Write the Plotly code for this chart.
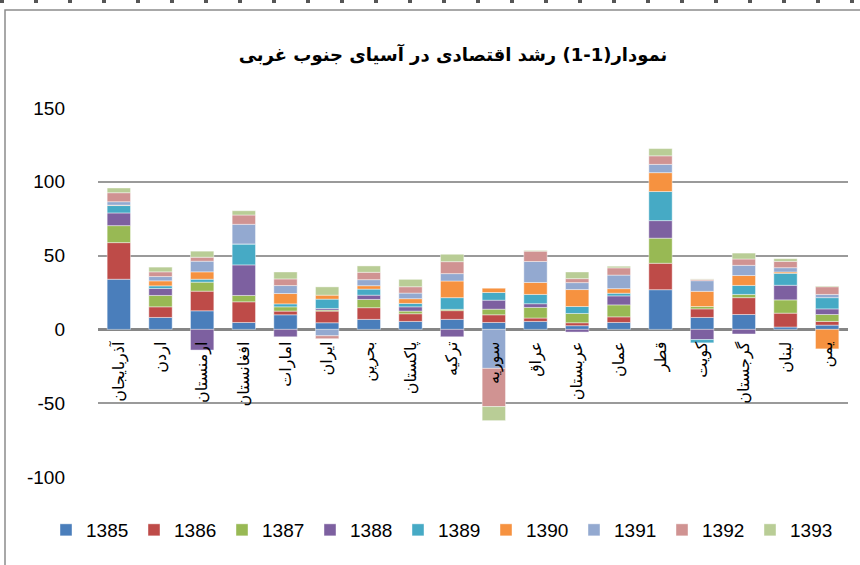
import plotly.graph_objects as go

countries = ["آذربایجان", "اردن", "ارمنستان", "افغانستان", "امارات", "ایران", "بحرین",
             "پاکستان", "ترکیه", "سوریه", "عراق", "عربستان", "عمان", "قطر", "کویت",
             "گرجستان", "لبنان", "یمن"]

years = ["1385", "1386", "1387", "1388", "1389", "1390", "1391", "1392", "1393"]

v1385 = [34, 8.1, 12.6, 4.7, 9.9, 4.5, 6.8, 5.4, 6.8, 4.7, 5.4, 2.5, 4.7, 26.9, 8.1, 10.1, 1.6, 2.9]
v1386 = [24.8, 7.2, 13.3, 14, 2.5, 7.9, 7.9, 5.2, 5.9, 5.2, 2.3, 2, 3.8, 17.9, 5.8, 11.4, 9.4, 2.5]
v1387 = [11.5, 7.7, 6.1, 4.3, 2.9, 0.7, 5.6, 1.8, 0.9, 3.8, 7.2, 6.3, 8.1, 17, 1.6, 2.2, 9, 4.7]
v1388 = [8.6, 4.7, -14, 20.7, -5, 1.1, 2.9, 2.9, -5, 6.1, 2.5, -1.8, 6.1, 11.9, -6.9, -3.1, 9.9, 3.8]
v1389 = [5, 1.8, 2, 14.2, 2, 6.3, 4.1, 2.3, 7.9, 5.2, 6.3, 4.7, 1.8, 19.7, -2.2, 6.1, 8.1, 7.6]
v1390 = [0.3, 3.4, 5, 0, 7, 2.7, 2.3, 3.2, 11.3, 2.9, 8.1, 11.5, 3.1, 12.8, 10.3, 6.7, 0.9, -13.2]
v1391 = [2.3, 2.9, 7.2, 13.3, 5.4, -4.3, 4.1, 3.8, 5, -26.4, 14.2, 4.7, 9.2, 5.6, 7.2, 6.9, 2.9, 2.2]
v1392 = [6.1, 3.2, 2.7, 6.3, 4.5, -2, 5, 4.3, 8.1, -25.9, 7, 2.7, 4.9, 5.8, 0.9, 4.3, 4.3, 5.2]
v1393 = [3.2, 3.2, 4.1, 2.9, 4.7, 5.6, 4.3, 5, 5, -9.5, 0.5, 4.5, 1.1, 4.9, 0.3, 4, 1.8, 0.5]

series = [v1385, v1386, v1387, v1388, v1389, v1390, v1391, v1392, v1393]
colors = ["#4A7EBB", "#BE4B48", "#98B954", "#7D60A0", "#46AAC5",
          "#F69240", "#93A9D0", "#D09392", "#B9CD96"]

title_text = "نمودار(1-1) رشد اقتصادی در آسیای جنوب غربی"
y_ticks = [-100, -50, 0, 50, 100, 150]

fig = go.Figure()
for name, vals, col in zip(years, series, colors):
    fig.add_trace(go.Bar(
        x=countries, y=vals, name=name,
        marker=dict(color=col, line=dict(color="rgba(255,255,255,0.7)", width=0.6)),
    ))

# plot area in pixels: x 98..848, y 108..477
L, R, T, B = 98, 848, 108, 477
W, H = 860, 565


def px(x):
    return (x - L) / (R - L)


def py(y):
    return (B - y) / (B - T)


num_font = "Liberation Sans, Arial, sans-serif"

fig.update_layout(
    width=W, height=H,
    barmode="relative",
    bargap=0.44,
    plot_bgcolor="white",
    paper_bgcolor="white",
    margin=dict(l=L, r=W - R, t=T, b=H - B, autoexpand=False),
    title=dict(
        text="<b>" + title_text + "</b>",
        x=453 / W, xref="container", xanchor="center",
        y=1 - 55 / H, yref="container", yanchor="middle",
        font=dict(family="DejaVu Sans, sans-serif", size=18, color="black"),
    ),
    xaxis=dict(
        anchor="free", position=0.4,
        showline=False, showgrid=False, zeroline=False,
        tickangle=-90, ticks="", ticklabelstandoff=8,
        tickfont=dict(family="DejaVu Sans, sans-serif", size=16, color="black"),
    ),
    yaxis=dict(
        range=[-100, 150], tickvals=y_ticks, ticktext=[str(t) for t in y_ticks],
        showgrid=True, gridcolor="#9a9a9a", gridwidth=2,
        zeroline=True, zerolinecolor="#868686", zerolinewidth=3,
        showline=False, ticks="", ticklabelstandoff=32,
        tickfont=dict(family=num_font, size=19, color="black"),
    ),
    legend=dict(
        orientation="h",
        xref="paper", yref="paper",
        x=px(46), xanchor="left",
        y=py(530), yanchor="middle",
        font=dict(family=num_font, size=19, color="black"),
        itemwidth=30,
        entrywidth=43, entrywidthmode="pixels",
        traceorder="normal",
    ),
    shapes=[
        dict(type="rect", xref="paper", yref="paper",
             x0=px(5), x1=px(880), y0=py(10), y1=py(600),
             line=dict(color="#8c8c8c", width=1.5), fillcolor="rgba(0,0,0,0)", layer="below"),
        dict(type="line", xref="paper", yref="paper",
             x0=px(0), x1=px(860), y0=py(1.5), y1=py(1.5),
             line=dict(color="#555555", width=3, dash="4px,30px")),
    ],
    showlegend=True,
)

fig.write_html("out.html", config={"displayModeBar": False},
               post_script="document.body.style.margin='0';")
